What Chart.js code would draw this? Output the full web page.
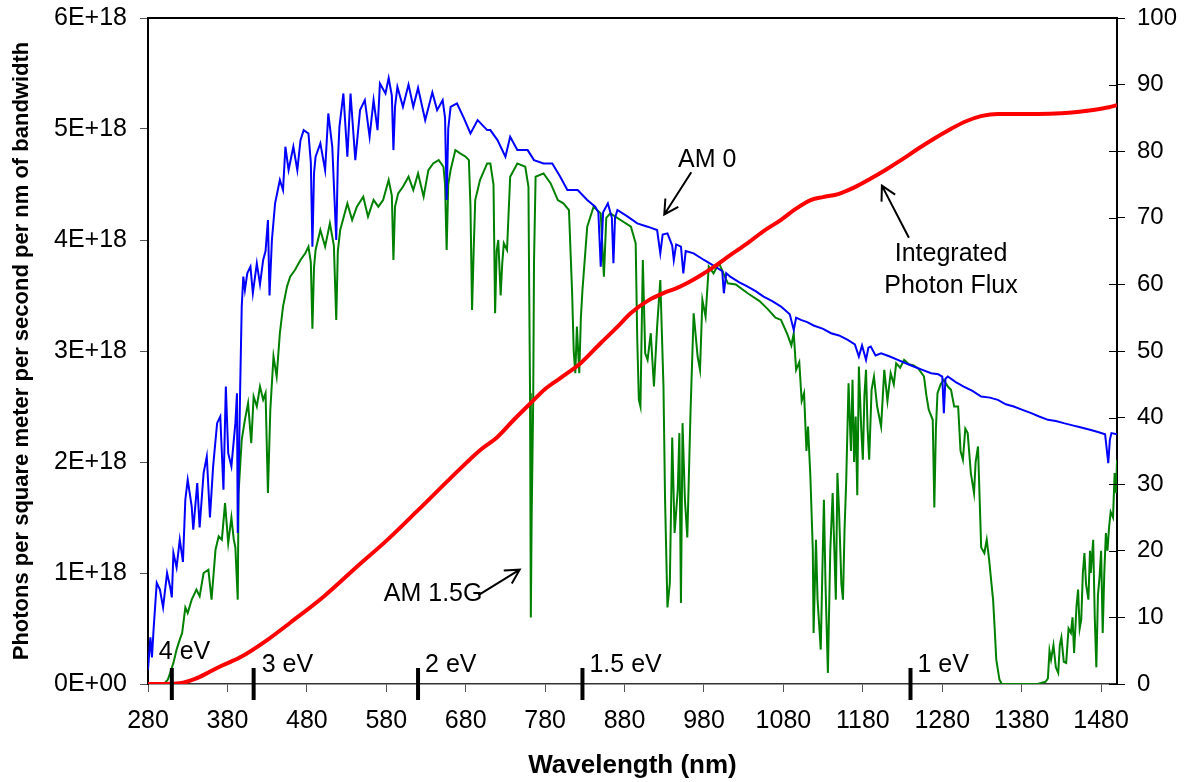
<!DOCTYPE html>
<html>
<head>
<meta charset="utf-8">
<script src="https://cdn.jsdelivr.net/npm/chart.js@4.4.1/dist/chart.umd.min.js"></script>
<style>
  html, body { margin: 0; padding: 0; background: #fff; }
  #wrap { width: 1185px; height: 782px; }
</style>
</head>
<body>
<div id="wrap"><canvas id="spectrum" width="1185" height="782"></canvas></div>
<script>
// x ticks (nm) and left-axis labels (values below are in units of 1E+18)
const xTickValues = [280, 380, 480, 580, 680, 780, 880, 980, 1080, 1180, 1280, 1380, 1480];
const yTickLabels = ['0E+00', '1E+18', '2E+18', '3E+18', '4E+18', '5E+18', '6E+18'];

// band-gap markers
const evLabels = ['4 eV', '3 eV', '2 eV', '1.5 eV', '1 eV'];
const evWavelengths = [310, 413, 620, 827, 1240];

// AM 0 spectrum (photons / m2 / s / nm, x1E+18)
const am0Wl = [280,283,285,287,291,295,299,304,308,310,312,316,320,324,327,330,335,337,342,345,350,354,358,362,367,371,375,378,381,385,390,392,393,396,398,400,402,405,409,412,417,421,425,428,431,433,436,440,446,450,453,457,463,468,472,476,482,485,487,489,491,497,503,507,512,517,519,521,526,531,535,541,547,553,559,564,569,572,579,583,587,589,591,594,601,608,614,620,629,638,644,651,654,656,658,661,669,677,686,695,707,711,720,730,736,745,758,766,778,789,799,808,821,833,843,847,850,853,859,864,866,868,871,884,896,909,921,925,928,934,940,942,945,951,954,957,967,980,992,1003,1005,1008,1013,1024,1035,1045,1055,1066,1077,1088,1093,1096,1102,1110,1118,1130,1140,1150,1161,1170,1175,1179,1184,1187,1190,1196,1203,1214,1224,1234,1244,1255,1266,1275,1280,1282,1284,1287,1297,1307,1318,1329,1340,1350,1360,1370,1381,1392,1402,1413,1423,1433,1444,1455,1466,1476,1485,1489,1491,1493,1500];
const am0Flux = [0.13,0.42,0.24,0.49,0.91,0.85,0.69,1.0,0.87,0.78,1.18,1.05,1.3,1.1,1.66,1.84,1.6,1.39,1.81,1.41,1.9,2.05,1.5,1.96,2.35,2.41,1.75,2.68,2.08,1.96,2.35,2.62,1.36,2.65,3.4,3.67,3.55,3.7,3.76,3.52,3.79,3.6,3.82,3.9,4.18,3.5,4.0,4.33,4.54,4.45,4.84,4.63,4.84,4.63,4.9,4.99,4.96,4.7,3.94,4.6,4.75,4.87,4.63,5.14,4.84,4.0,4.7,5.02,5.32,4.75,5.32,4.72,5.17,5.26,4.93,5.26,4.99,5.41,5.32,5.46,5.3,4.81,5.2,5.38,5.2,5.4,5.2,5.37,5.08,5.33,5.17,5.26,5.1,4.36,5.0,5.2,5.23,5.11,4.96,5.08,4.99,4.99,4.9,4.75,4.93,4.81,4.81,4.72,4.69,4.69,4.57,4.45,4.45,4.36,4.3,4.25,3.76,4.25,4.33,4.2,3.79,4.2,4.27,4.21,4.15,4.12,4.09,3.88,4.05,4.06,3.95,3.82,3.96,3.94,3.7,3.9,3.88,3.82,3.77,3.72,3.52,3.7,3.67,3.62,3.58,3.54,3.49,3.45,3.4,3.33,3.19,3.3,3.28,3.26,3.23,3.2,3.16,3.14,3.1,3.06,2.95,3.05,2.92,3.03,3.04,2.96,2.98,2.95,2.92,2.89,2.86,2.83,2.8,2.79,2.77,2.44,2.75,2.77,2.72,2.68,2.64,2.59,2.58,2.56,2.52,2.5,2.47,2.44,2.41,2.38,2.37,2.35,2.33,2.31,2.29,2.27,2.25,1.99,2.2,2.26,2.25];

// AM 1.5G spectrum (x1E+18)
const am15Wl = [280,290,300,305,308,312,316,320,323,327,330,335,341,345,350,356,360,365,369,373,377,381,385,388,390,393,394,398,402,406,410,413,417,421,425,428,431,434,438,442,446,450,455,459,465,472,478,482,485,487,489,491,497,503,509,514,517,519,522,531,537,543,551,557,564,570,576,583,587,589,591,595,601,608,614,620,627,633,639,646,652,654,656,658,661,667,673,680,684,686,688,690,692,698,707,711,715,717,719,721,724,726,728,732,736,745,755,759,760,761,762,763,765,766,768,778,787,796,803,810,814,816,818,820,823,825,827,833,841,850,854,857,862,875,888,894,896,898,900,903,906,909,913,917,921,925,929,931,934,937,940,943,947,949,951,953,956,959,963,967,972,975,978,982,986,992,999,1010,1020,1035,1050,1060,1070,1077,1085,1090,1093,1096,1100,1103,1106,1109,1111,1114,1117,1118,1121,1123,1127,1129,1131,1133,1136,1139,1142,1146,1148,1150,1153,1155,1157,1159,1162,1165,1167,1169,1171,1173,1175,1178,1180,1182,1184,1186,1188,1191,1194,1198,1203,1207,1211,1215,1219,1222,1227,1232,1238,1244,1250,1257,1260,1263,1268,1270,1272,1274,1278,1282,1287,1291,1295,1300,1303,1306,1309,1312,1316,1320,1322,1325,1329,1333,1336,1339,1342,1344,1346,1348,1352,1355,1400,1410,1413,1415,1417,1420,1423,1426,1428,1430,1433,1436,1439,1442,1444,1446,1449,1451,1453,1455,1457,1459,1461,1464,1466,1467,1470,1472,1474,1476,1478,1480,1482,1484,1486,1488,1490,1492,1495,1497,1499,1500];
const am15Flux = [0,0,0,0.04,0.1,0.19,0.31,0.4,0.46,0.69,0.64,0.76,0.85,0.79,1.0,1.03,0.76,1.21,1.33,1.3,1.63,1.27,1.5,1.3,1.23,0.76,1.72,2.2,2.38,2.53,2.17,2.59,2.5,2.68,2.56,2.62,1.72,2.47,2.95,2.77,3.16,3.4,3.58,3.67,3.73,3.82,3.88,3.94,3.8,3.2,3.75,3.91,4.09,3.94,4.15,3.95,3.28,3.9,4.09,4.33,4.18,4.3,4.39,4.21,4.36,4.3,4.36,4.54,4.4,3.82,4.3,4.42,4.48,4.57,4.45,4.6,4.39,4.63,4.69,4.72,4.66,4.5,3.91,4.5,4.63,4.81,4.78,4.75,4.72,4.3,3.37,3.9,4.36,4.54,4.69,4.69,4.5,3.34,3.9,4.0,3.5,3.79,3.97,3.91,4.57,4.69,4.66,4.48,3.5,2.62,0.6,1.48,2.56,3.8,4.57,4.6,4.51,4.36,4.33,4.27,3.52,3.0,2.8,3.22,2.8,3.3,3.55,4.12,4.3,4.24,3.67,4.2,4.24,4.18,4.12,3.97,3.1,2.56,2.5,3.82,2.98,2.92,3.16,2.68,3.22,3.64,2.68,1.66,0.69,0.91,2.22,1.36,1.75,2.26,0.73,2.35,1.66,1.32,2.44,3.34,2.95,2.83,3.46,3.31,3.76,3.7,3.79,3.61,3.6,3.52,3.45,3.38,3.3,3.28,3.15,3.05,3.16,2.83,2.9,2.55,2.62,2.1,2.32,1.86,1.21,0.46,1.3,0.76,0.31,1.0,1.66,0.9,0.1,1.2,1.72,0.76,1.9,1.57,0.9,0.76,1.4,1.81,2.71,2.1,2.74,2.0,2.41,1.7,2.86,2.3,2.02,2.6,2.83,2.3,2.02,2.65,2.77,2.5,2.32,2.83,2.55,2.8,2.7,2.89,2.85,2.92,2.88,2.87,2.84,2.77,2.6,2.47,2.38,1.59,2.3,2.62,2.7,2.74,2.68,2.65,2.5,2.5,2.1,2.02,2.3,2.26,1.9,1.72,2.0,2.14,1.23,1.18,1.3,1.12,0.9,0.76,0.5,0.22,0.04,0,0,0.02,0.05,0.3,0.22,0.35,0.15,0.1,0.35,0.42,0.2,0.19,0.5,0.46,0.6,0.28,0.7,0.85,0.5,0.58,1.0,1.18,0.9,0.76,1.2,1.0,1.3,0.6,0.15,0.8,0.96,1.2,0.46,1.0,1.36,1.2,1.41,1.55,1.5,1.9,1.72,2.02];

// Integrated photon flux (right axis, %)
const ipfWl = [280,300,320,340,354,370,396,430,459,501,543,581,620,660,698,720,740,762,780,800,825,850,870,888,910,929,945,959,975,992,1013,1035,1055,1077,1095,1115,1130,1150,1170,1190,1210,1230,1250,1270,1290,1310,1330,1350,1400,1430,1450,1470,1490,1500];
const ipfVal = [0,0,0.1,0.8,1.6,2.6,4.0,6.6,9.2,13.1,17.6,21.6,26.1,30.8,35.1,37.1,39.6,42.2,44.3,46.0,48.2,51.2,53.5,55.7,57.6,58.7,59.4,60.2,61.3,62.6,64.4,66.2,68.0,69.7,71.3,72.7,73.1,73.6,74.6,75.9,77.3,78.8,80.4,81.9,83.3,84.5,85.3,85.6,85.6,85.7,85.9,86.2,86.6,86.9];

const pairs = (xs, ys) => xs.map((x, i) => ({ x: x, y: ys[i] }));

const FONT = '"Liberation Sans", Arial, sans-serif';
Chart.defaults.font.family = FONT;
Chart.defaults.color = '#000';

// keep the plot box where the layout padding puts it
const noPad = s => { s.paddingTop = 0; s.paddingBottom = 0; s.paddingLeft = 0; s.paddingRight = 0; };

// frame, right-axis inner ticks, eV markers and text notes
const overlay = {
    id: 'overlay',
    afterDraw(chart, args, opts) {
        const { ctx, chartArea: a, scales } = chart;
        const xs = scales.x, ys = scales.y, y2 = scales.y2;
        ctx.save();

        ctx.strokeStyle = '#000';
        ctx.lineWidth = 2;
        ctx.beginPath();
        ctx.moveTo(a.left, a.top);
        ctx.lineTo(a.right, a.top);
        ctx.stroke();

        ctx.lineWidth = 1;
        y2.ticks.forEach(t => {
            const py = Math.round(y2.getPixelForValue(t.value)) + 0.5;
            ctx.beginPath();
            ctx.moveTo(a.right - 8, py);
            ctx.lineTo(a.right, py);
            ctx.stroke();
        });

        // eV markers
        ctx.font = '25px ' + FONT;
        ctx.fillStyle = '#000';
        ctx.textBaseline = 'alphabetic';
        ctx.textAlign = 'left';
        evWavelengths.forEach((wl, i) => {
            const px = xs.getPixelForValue(wl);
            ctx.lineWidth = 4;
            ctx.beginPath();
            ctx.moveTo(px, a.bottom - 16);
            ctx.lineTo(px, a.bottom + 16);
            ctx.stroke();
            const off = opts.evOffsets[i];
            ctx.fillText(evLabels[i], px + off[0], a.bottom + off[1]);
        });

        // notes with arrows
        ctx.textAlign = 'center';
        ctx.textBaseline = 'middle';
        ctx.lineWidth = 2;
        opts.notes.forEach(n => {
            n.lines.forEach((ln, k) => {
                ctx.fillText(ln, xs.getPixelForValue(n.at[0]), ys.getPixelForValue(n.at[1]) + k * 32);
            });
            const x0 = xs.getPixelForValue(n.from[0]), y0 = ys.getPixelForValue(n.from[1]);
            const x1 = xs.getPixelForValue(n.to[0]), y1 = ys.getPixelForValue(n.to[1]);
            const ang = Math.atan2(y1 - y0, x1 - x0);
            ctx.beginPath();
            ctx.moveTo(x0, y0);
            ctx.lineTo(x1, y1);
            ctx.moveTo(x1 - 16 * Math.cos(ang - 0.5), y1 - 16 * Math.sin(ang - 0.5));
            ctx.lineTo(x1, y1);
            ctx.lineTo(x1 - 16 * Math.cos(ang + 0.5), y1 - 16 * Math.sin(ang + 0.5));
            ctx.stroke();
        });
        ctx.restore();
    }
};

const ctx = document.getElementById('spectrum').getContext('2d');
new Chart(ctx, {
    type: 'line',
    data: {
        datasets: [
            {
                label: 'Integrated Photon Flux',
                data: pairs(ipfWl, ipfVal),
                yAxisID: 'y2',
                borderColor: '#ff0000',
                borderWidth: 4,
                pointRadius: 0,
                cubicInterpolationMode: 'monotone'
            },
            {
                label: 'AM 0',
                data: pairs(am0Wl, am0Flux),
                yAxisID: 'y',
                borderColor: '#0000ff',
                borderWidth: 2,
                pointRadius: 0,
                tension: 0
            },
            {
                label: 'AM 1.5G',
                data: pairs(am15Wl, am15Flux),
                yAxisID: 'y',
                borderColor: '#008000',
                borderWidth: 2,
                pointRadius: 0,
                tension: 0
            }
        ]
    },
    options: {
        responsive: false,
        animation: false,
        layout: { padding: { top: 18, right: 0, bottom: 0, left: 0 } },
        plugins: {
            legend: { display: false },
            tooltip: { enabled: false },
            overlay: {
                evOffsets: [[-13, -25], [8, -12], [7, -12], [7, -12], [7, -12]],
                notes: [
                    { lines: ['AM 0'], at: [984, 4.72], from: [964, 4.61], to: [930, 4.23] },
                    { lines: ['Integrated', 'Photon Flux'], at: [1291, 3.87], from: [1238, 4.02], to: [1204, 4.49] },
                    { lines: ['AM 1.5G'], at: [639, 0.81], from: [696, 0.8], to: [748, 1.03] }
                ]
            }
        },
        scales: {
            x: {
                type: 'linear',
                min: 280,
                max: 1500,
                afterBuildTicks: s => { s.ticks = xTickValues.map(v => ({ value: v })); },
                afterFit: s => { s.height = 98; noPad(s); },
                grid: { drawOnChartArea: false, tickLength: 8, tickColor: '#555', tickWidth: 1 },
                border: { display: true, color: '#333', width: 1.5 },
                ticks: {
                    font: { size: 25 },
                    color: '#000',
                    padding: 14,
                    maxRotation: 0,
                    autoSkip: false,
                    callback: v => String(v)
                },
                title: {
                    display: true,
                    text: 'Wavelength (nm)',
                    font: { size: 26, weight: 'bold' },
                    color: '#000',
                    padding: { top: 0, bottom: 1 }
                }
            },
            y: {
                position: 'left',
                min: 0,
                max: 6,
                afterFit: s => { s.width = 148; noPad(s); },
                grid: { drawOnChartArea: false, tickLength: 8, tickColor: '#555', tickWidth: 1 },
                border: { display: true, color: '#000', width: 2 },
                ticks: {
                    stepSize: 1,
                    font: { size: 25 },
                    color: '#000',
                    padding: 13,
                    callback: v => yTickLabels[Math.round(v)]
                },
                title: {
                    display: true,
                    text: 'Photons per square meter per second per nm of bandwidth',
                    font: { size: 22, weight: 'bold' },
                    color: '#000',
                    padding: { top: 9, bottom: 0 }
                }
            },
            y2: {
                position: 'right',
                min: 0,
                max: 100,
                afterFit: s => { s.width = 68; noPad(s); },
                grid: { drawOnChartArea: false, tickLength: 8, tickColor: '#000', tickWidth: 1 },
                border: { display: true, color: '#000', width: 2 },
                ticks: { stepSize: 10, font: { size: 24 }, color: '#000', padding: 12 }
            }
        }
    },
    plugins: [overlay]
});
</script>
</body>
</html>
